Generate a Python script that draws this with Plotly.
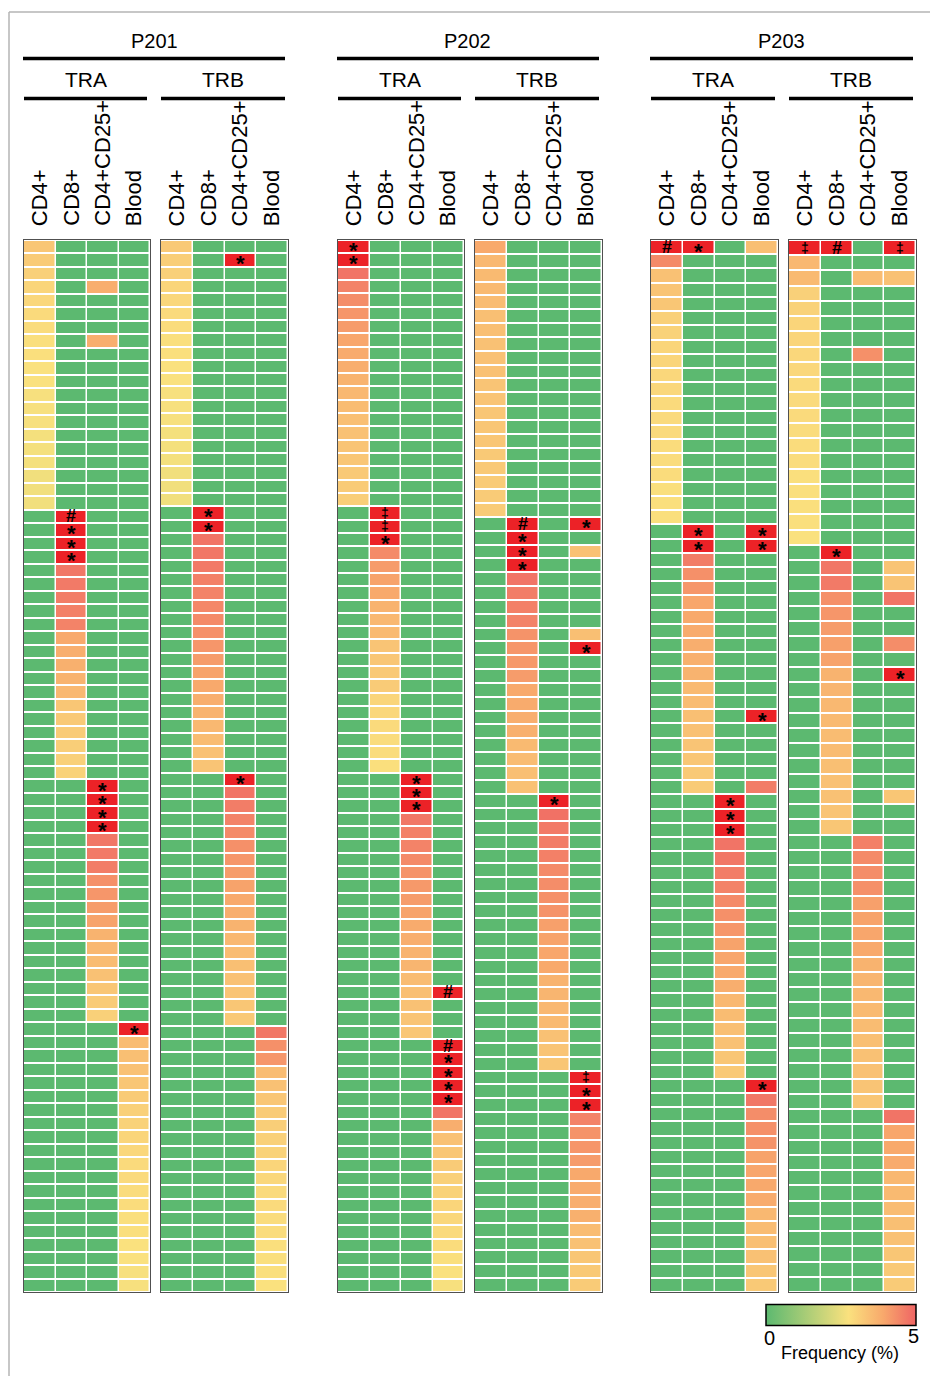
import plotly.graph_objects as go

W, H = 930, 1376

COLUMNS = ["CD4+", "CD8+", "CD4+CD25+", "Blood"]
PATIENTS = ["P201", "P202", "P203"]
CHAINS = ["TRA", "TRB"]

# ---------------- P201 TRA (78 clones) ----------------
P201_TRA_CD4 = [3.3,3.2,3.1,3.0,2.95,2.9,2.85,2.8,2.8,2.75,
                2.75,2.7,2.7,2.7,2.65,2.65,2.65,2.6,2.6,2.6,
                0,0,0,0,0,0,0,0,0,0, 0,0,0,0,0,0,0,0,0,0,
                0,0,0,0,0,0,0,0,0,0, 0,0,0,0,0,0,0,0,0,0,
                0,0,0,0,0,0,0,0,0,0, 0,0,0,0,0,0,0,0]
P201_TRA_CD8 = [0,0,0,0,0,0,0,0,0,0, 0,0,0,0,0,0,0,0,0,0,
                6,6,6,6,4.7,4.65,4.6,4.55,4.5,3.9,
                3.8,3.75,3.7,3.6,3.3,3.25,3.2,3.15,3.1,3.05,
                0,0,0,0,0,0,0,0,0,0, 0,0,0,0,0,0,0,0,0,0,
                0,0,0,0,0,0,0,0,0,0, 0,0,0,0,0,0,0,0]
P201_TRA_CD25 = [0,0,0,3.8,0,0,0,3.8,0,0, 0,0,0,0,0,0,0,0,0,0,
                 0,0,0,0,0,0,0,0,0,0, 0,0,0,0,0,0,0,0,0,0,
                 6,6,6,6,4.7,4.65,4.6,4.3,4.2,4.1,
                 4.0,3.7,3.6,3.5,3.4,3.3,3.2,3.1,0,0,
                 0,0,0,0,0,0,0,0,0,0, 0,0,0,0,0,0,0,0]
P201_TRA_BLOOD = [0,0,0,0,0,0,0,0,0,0, 0,0,0,0,0,0,0,0,0,0,
                  0,0,0,0,0,0,0,0,0,0, 0,0,0,0,0,0,0,0,0,0,
                  0,0,0,0,0,0,0,0,0,0,
                  0,0,0,0,0,0,0,0,6,3.5,
                  3.45,3.4,3.3,3.2,3.1,3.05,3.0,2.95,2.9,2.9,
                  2.85,2.85,2.8,2.8,2.75,2.75,2.7,2.7]
P201_TRA_MARKS = [(1,20,"#"),(1,21,"*"),(1,22,"*"),(1,23,"*"),
                  (2,40,"*"),(2,41,"*"),(2,42,"*"),(2,43,"*"),(3,58,"*")]

# ---------------- P201 TRB (79 clones) ----------------
P201_TRB_CD4 = [3.25,3.15,3.1,3.0,2.95,2.9,2.85,2.8,2.8,2.75,
                2.75,2.7,2.7,2.7,2.65,2.65,2.65,2.6,2.6,2.6,
                0,0,0,0,0,0,0,0,0,0, 0,0,0,0,0,0,0,0,0,0,
                0,0,0,0,0,0,0,0,0,0, 0,0,0,0,0,0,0,0,0,0,
                0,0,0,0,0,0,0,0,0,0, 0,0,0,0,0,0,0,0,0]
P201_TRB_CD8 = [0,0,0,0,0,0,0,0,0,0, 0,0,0,0,0,0,0,0,0,0,
                6,6,4.75,4.7,4.65,4.55,4.5,4.45,4.4,4.3,
                4.2,4.1,4.0,3.9,3.8,3.7,3.6,3.5,3.4,3.35,
                0,0,0,0,0,0,0,0,0,0, 0,0,0,0,0,0,0,0,0,0,
                0,0,0,0,0,0,0,0,0,0, 0,0,0,0,0,0,0,0,0]
P201_TRB_CD25 = [0,6,0,0,0,0,0,0,0,0, 0,0,0,0,0,0,0,0,0,0,
                 0,0,0,0,0,0,0,0,0,0, 0,0,0,0,0,0,0,0,0,0,
                 6,4.75,4.6,4.5,4.4,4.3,4.2,4.1,4.0,3.9,
                 3.8,3.7,3.6,3.5,3.45,3.4,3.35,3.3,3.25,0,
                 0,0,0,0,0,0,0,0,0,0, 0,0,0,0,0,0,0,0,0]
P201_TRB_BLOOD = [0,0,0,0,0,0,0,0,0,0, 0,0,0,0,0,0,0,0,0,0,
                  0,0,0,0,0,0,0,0,0,0, 0,0,0,0,0,0,0,0,0,0,
                  0,0,0,0,0,0,0,0,0,0,
                  0,0,0,0,0,0,0,0,0,4.7,
                  4.3,4.2,3.5,3.4,3.3,3.2,3.15,3.1,3.05,3.0,
                  2.95,2.9,2.9,2.85,2.85,2.8,2.8,2.8,2.75]
P201_TRB_MARKS = [(2,1,"*"),(1,20,"*"),(1,21,"*"),(2,40,"*")]

# ---------------- P202 TRA (79 clones) ----------------
P202_TRA_CD4 = [6,6,4.75,4.5,4.35,4.2,4.1,3.95,3.85,3.8,
                3.7,3.6,3.5,3.45,3.4,3.35,3.3,3.25,3.2,3.15,
                0,0,0,0,0,0,0,0,0,0, 0,0,0,0,0,0,0,0,0,0,
                0,0,0,0,0,0,0,0,0,0, 0,0,0,0,0,0,0,0,0,0,
                0,0,0,0,0,0,0,0,0,0, 0,0,0,0,0,0,0,0,0]
P202_TRA_CD8 = [0,0,0,0,0,0,0,0,0,0, 0,0,0,0,0,0,0,0,0,0,
                6,6,6,4.4,4.1,4.0,3.9,3.7,3.6,3.55,
                3.35,3.3,3.25,3.2,3.0,2.95,2.9,2.85,2.85,2.8,
                0,0,0,0,0,0,0,0,0,0, 0,0,0,0,0,0,0,0,0,0,
                0,0,0,0,0,0,0,0,0,0, 0,0,0,0,0,0,0,0,0]
P202_TRA_CD25 = [0,0,0,0,0,0,0,0,0,0, 0,0,0,0,0,0,0,0,0,0,
                 0,0,0,0,0,0,0,0,0,0, 0,0,0,0,0,0,0,0,0,0,
                 6,6,6,4.7,4.55,4.5,4.4,4.25,4.15,4.1,
                 4.0,3.85,3.8,3.7,3.65,3.5,3.45,3.4,3.35,3.3,
                 0,0,0,0,0,0,0,0,0,0, 0,0,0,0,0,0,0,0,0]
P202_TRA_BLOOD = [0,0,0,0,0,0,0,0,0,0, 0,0,0,0,0,0,0,0,0,0,
                  0,0,0,0,0,0,0,0,0,0, 0,0,0,0,0,0,0,0,0,0,
                  0,0,0,0,0,0,0,0,0,0,
                  0,0,0,0,0,0,6,0,0,0,
                  6,6,6,6,6,4.75,3.8,3.4,3.3,3.2,
                  3.1,3.05,3.0,2.95,2.9,2.85,2.8,2.75,2.7]
P202_TRA_MARKS = [(0,0,"*"),(0,1,"*"),(1,20,"‡"),(1,21,"‡"),(1,22,"*"),
                  (2,40,"*"),(2,41,"*"),(2,42,"*"),(3,56,"#"),
                  (3,60,"#"),(3,61,"*"),(3,62,"*"),(3,63,"*"),(3,64,"*")]

# ---------------- P202 TRB (76 clones) ----------------
P202_TRB_CD4 = [3.9,3.6,3.55,3.55,3.5,3.45,3.45,3.4,3.4,3.4,
                3.35,3.35,3.3,3.3,3.3,3.25,3.25,3.2,3.2,3.2,
                0,0,0,0,0,0,0,0,0,0, 0,0,0,0,0,0,0,0,0,0,
                0,0,0,0,0,0,0,0,0,0, 0,0,0,0,0,0,0,0,0,0,
                0,0,0,0,0,0,0,0,0,0, 0,0,0,0,0,0]
P202_TRB_CD8 = [0,0,0,0,0,0,0,0,0,0, 0,0,0,0,0,0,0,0,0,0,
                6,6,6,6,4.75,4.6,4.55,4.5,4.25,4.2,
                4.15,4.1,3.9,3.85,3.8,3.75,3.55,3.5,3.45,3.4,
                0,0,0,0,0,0,0,0,0,0, 0,0,0,0,0,0,0,0,0,0,
                0,0,0,0,0,0,0,0,0,0, 0,0,0,0,0,0]
P202_TRB_CD25 = [0,0,0,0,0,0,0,0,0,0, 0,0,0,0,0,0,0,0,0,0,
                 0,0,0,0,0,0,0,0,0,0, 0,0,0,0,0,0,0,0,0,0,
                 6,4.8,4.65,4.6,4.55,4.4,4.35,4.3,4.25,4.05,
                 4.0,3.95,3.9,3.7,3.65,3.6,3.55,3.4,3.35,3.3,
                 0,0,0,0,0,0,0,0,0,0, 0,0,0,0,0,0]
P202_TRB_BLOOD = [0,0,0,0,0,0,0,0,0,0, 0,0,0,0,0,0,0,0,0,0,
                  6,0,3.4,0,0,0,0,0,3.45,6,
                  0,0,0,0,0,0,0,0,0,0, 0,0,0,0,0,0,0,0,0,0,
                  0,0,0,0,0,0,0,0,0,0,
                  6,6,6,4.5,4.25,4.2,4.1,3.9,3.85,3.8,
                  3.75,3.5,3.4,3.3,3.25,3.2]
P202_TRB_MARKS = [(1,20,"#"),(1,21,"*"),(1,22,"*"),(1,23,"*"),
                  (3,20,"*"),(3,29,"*"),(2,40,"*"),
                  (3,60,"‡"),(3,61,"*"),(3,62,"*")]

# ---------------- P203 TRA (74 clones) ----------------
P203_TRA_CD4 = [6,4.4,3.4,3.35,3.3,3.1,3.05,3.0,3.0,2.95,
                2.95,2.9,2.9,2.9,2.85,2.85,2.85,2.8,2.8,2.8,
                0,0,0,0,0,0,0,0,0,0, 0,0,0,0,0,0,0,0,0,0,
                0,0,0,0,0,0,0,0,0,0, 0,0,0,0,0,0,0,0,0,0,
                0,0,0,0,0,0,0,0,0,0, 0,0,0,0]
P203_TRA_CD8 = [6,0,0,0,0,0,0,0,0,0, 0,0,0,0,0,0,0,0,0,0,
                6,6,4.6,4.3,4.2,3.95,3.9,3.85,3.8,3.75,
                3.7,3.55,3.5,3.45,3.4,3.35,3.3,3.25,3.2,0,
                0,0,0,0,0,0,0,0,0,0, 0,0,0,0,0,0,0,0,0,0,
                0,0,0,0,0,0,0,0,0,0, 0,0,0,0]
P203_TRA_CD25 = [0,0,0,0,0,0,0,0,0,0, 0,0,0,0,0,0,0,0,0,0,
                 0,0,0,0,0,0,0,0,0,0,
                 0,0,0,0,0,0,0,0,0,6,
                 6,6,4.75,4.7,4.6,4.5,4.4,4.3,4.2,4.0,
                 3.95,3.9,3.8,3.6,3.5,3.45,3.4,3.3,3.25,0,
                 0,0,0,0,0,0,0,0,0,0, 0,0,0,0]
P203_TRA_BLOOD = [3.45,0,0,0,0,0,0,0,0,0, 0,0,0,0,0,0,0,0,0,0,
                  6,6,0,0,0,0,0,0,0,0,
                  0,0,0,6,0,0,0,0,4.6,0,
                  0,0,0,0,0,0,0,0,0,0,
                  0,0,0,0,0,0,0,0,0,6,
                  4.7,4.35,4.3,4.25,4.0,3.95,3.9,3.85,3.6,3.5,
                  3.45,3.4,3.3,3.25]
P203_TRA_MARKS = [(0,0,"#"),(1,0,"*"),(1,20,"*"),(1,21,"*"),(3,20,"*"),(3,21,"*"),
                  (3,33,"*"),(2,39,"*"),(2,40,"*"),(2,41,"*"),(3,59,"*")]

# ---------------- P203 TRB (69 clones) ----------------
P203_TRB_CD4 = [6,3.6,3.55,3.1,3.05,3.0,3.0,2.95,2.95,2.9,
                2.9,2.9,2.85,2.85,2.85,2.8,2.8,2.8,2.8,2.75,
                0,0,0,0,0,0,0,0,0,0, 0,0,0,0,0,0,0,0,0,0,
                0,0,0,0,0,0,0,0,0,0, 0,0,0,0,0,0,0,0,0,0,
                0,0,0,0,0,0,0,0,0]
P203_TRB_CD8 = [6,0,0,0,0,0,0,0,0,0, 0,0,0,0,0,0,0,0,0,0,
                6,4.7,4.65,4.3,4.2,4.1,4.05,4.0,3.7,3.65,
                3.6,3.55,3.5,3.5,3.45,3.4,3.4,3.35,3.3,0,
                0,0,0,0,0,0,0,0,0,0, 0,0,0,0,0,0,0,0,0,0,
                0,0,0,0,0,0,0,0,0]
P203_TRB_CD25 = [0,0,3.5,0,0,0,0,4.3,0,0, 0,0,0,0,0,0,0,0,0,0,
                 0,0,0,0,0,0,0,0,0,0,
                 0,0,0,0,0,0,0,0,0,4.55,
                 4.4,4.35,4.3,4.05,4.0,3.95,3.9,3.7,3.65,3.6,
                 3.55,3.5,3.45,3.4,3.4,3.35,3.3,0,0,0,
                 0,0,0,0,0,0,0,0,0]
P203_TRB_BLOOD = [6,0,3.4,0,0,0,0,0,0,0, 0,0,0,0,0,0,0,0,0,0,
                  0,3.35,3.35,4.75,0,0,4.35,0,6,0,
                  0,0,0,0,0,0,3.3,0,0,0,
                  0,0,0,0,0,0,0,0,0,0,
                  0,0,0,0,0,0,0,4.75,3.95,3.9,
                  3.85,3.6,3.55,3.5,3.45,3.4,3.3,3.25,3.2]
P203_TRB_MARKS = [(0,0,"‡"),(1,0,"#"),(3,0,"‡"),(1,20,"*"),(3,28,"*")]

PANELS = [
    ("P201", "TRA", [P201_TRA_CD4, P201_TRA_CD8, P201_TRA_CD25, P201_TRA_BLOOD], P201_TRA_MARKS),
    ("P201", "TRB", [P201_TRB_CD4, P201_TRB_CD8, P201_TRB_CD25, P201_TRB_BLOOD], P201_TRB_MARKS),
    ("P202", "TRA", [P202_TRA_CD4, P202_TRA_CD8, P202_TRA_CD25, P202_TRA_BLOOD], P202_TRA_MARKS),
    ("P202", "TRB", [P202_TRB_CD4, P202_TRB_CD8, P202_TRB_CD25, P202_TRB_BLOOD], P202_TRB_MARKS),
    ("P203", "TRA", [P203_TRA_CD4, P203_TRA_CD8, P203_TRA_CD25, P203_TRA_BLOOD], P203_TRA_MARKS),
    ("P203", "TRB", [P203_TRB_CD4, P203_TRB_CD8, P203_TRB_CD25, P203_TRB_BLOOD], P203_TRB_MARKS),
]

# ---------------- styling / layout constants ----------------
FONT = "Liberation Sans, Arial, Helvetica, sans-serif"
PANEL_X = [(24, 150), (161, 288), (338, 464), (475, 602), (651, 778), (789, 916)]
PANEL_TOP, PANEL_BOTTOM = 240, 1292
GREEN, YELLOW, ORANGE, SALMON, RED = "#5cb970", "#fae17e", "#f8a96c", "#ef6464", "#ec2227"
ZMAX = 6.0
CELL_SCALE = [[0, GREEN], [2.75 / ZMAX, YELLOW], [3.9 / ZMAX, ORANGE],
              [5.0 / ZMAX, SALMON], [5.4 / ZMAX, RED], [1, RED]]
BAR_SCALE = [[0, GREEN], [0.55, YELLOW], [0.78, ORANGE], [1, SALMON]]
MARK_FONT = {"*": (22, -4), "#": (18, 0), "‡": (14, 0)}


def px(xp):
    return xp / W


def py(yp):
    return 1 - yp / H


fig = go.Figure()
layout = dict(width=W, height=H, margin=dict(l=0, r=0, t=0, b=0),
              paper_bgcolor="white", plot_bgcolor="white",
              font=dict(family=FONT, color="black"), showlegend=False)
annotations = []
shapes = []

for i, (pat, chain, cols, marks) in enumerate(PANELS):
    n = len(cols[0])
    for c in cols:
        assert len(c) == n, (pat, chain, len(c), n)
    z = [[cols[c][r] for c in range(4)] for r in range(n)]
    sfx = "" if i == 0 else str(i + 1)
    fig.add_trace(go.Heatmap(
        z=z, x=list(range(4)), y=list(range(n)),
        xaxis="x" + sfx, yaxis="y" + sfx,
        colorscale=CELL_SCALE, zmin=0, zmax=ZMAX, showscale=False,
        xgap=1.5, ygap=2, hoverinfo="skip"))
    x0, x1 = PANEL_X[i]
    layout["xaxis" + sfx] = dict(domain=[px(x0), px(x1)], range=[-0.5, 3.5],
                                 showticklabels=False, showgrid=False, zeroline=False,
                                 ticks="", showline=True, mirror=True,
                                 linecolor="#505050", linewidth=1.3,
                                 anchor="y" + sfx, fixedrange=True)
    layout["yaxis" + sfx] = dict(domain=[py(PANEL_BOTTOM), py(PANEL_TOP)],
                                 range=[n - 0.5, -0.5],
                                 showticklabels=False, showgrid=False, zeroline=False,
                                 ticks="", showline=True, mirror=True,
                                 linecolor="#505050", linewidth=1.3,
                                 anchor="x" + sfx, fixedrange=True)
    # column labels
    for ci, name in enumerate(COLUMNS):
        annotations.append(dict(text=name, x=ci, xref="x" + sfx, y=py(228), yref="paper",
                                textangle=-90, xanchor="center", yanchor="bottom",
                                showarrow=False, font=dict(size=22, family=FONT)))
    # significance markers
    for (ci, r, sym) in marks:
        fsize, shift = MARK_FONT[sym]
        annotations.append(dict(text="<b>" + sym + "</b>", x=ci, xref="x" + sfx,
                                y=r, yref="y" + sfx, borderpad=0,
                                showarrow=False, xanchor="center", yanchor="middle",
                                yshift=shift,
                                font=dict(size=fsize, family=FONT, color="black")))
    # chain header + line
    annotations.append(dict(text=chain, x=px((x0 + x1 - 3) / 2), xref="paper",
                            y=py(79), yref="paper", showarrow=False,
                            xanchor="center", yanchor="middle",
                            font=dict(size=21, family=FONT)))
    shapes.append(dict(type="line", xref="paper", yref="paper",
                       x0=px(x0), x1=px(x1 - 3), y0=py(98.5), y1=py(98.5),
                       line=dict(color="black", width=3.5)))

# patient headers
for pi, pat in enumerate(PATIENTS):
    xl = PANEL_X[2 * pi][0] - 1
    xr = PANEL_X[2 * pi + 1][1] - 3
    annotations.append(dict(text=pat, x=px((xl + xr) / 2), xref="paper",
                            y=py(41), yref="paper", showarrow=False,
                            xanchor="center", yanchor="middle",
                            font=dict(size=20, family=FONT)))
    shapes.append(dict(type="line", xref="paper", yref="paper",
                       x0=px(xl), x1=px(xr), y0=py(58.5), y1=py(58.5),
                       line=dict(color="black", width=3.5)))

# outer light frame
shapes.append(dict(type="line", xref="paper", yref="paper", x0=px(9), x1=1,
                   y0=py(12), y1=py(12), line=dict(color="#b4b4b4", width=1.5)))
shapes.append(dict(type="line", xref="paper", yref="paper", x0=px(9), x1=px(9),
                   y0=0, y1=py(12), line=dict(color="#b4b4b4", width=1.5)))

# colour bar (0-5 %) on a hidden helper axis
fig.add_trace(go.Scatter(
    x=[0, 1], y=[0, 1], mode="markers", xaxis="x7", yaxis="y7", hoverinfo="skip",
    marker=dict(size=1, opacity=0, color=[0, 5], cmin=0, cmax=5,
                colorscale=BAR_SCALE, showscale=True,
                colorbar=dict(orientation="h", x=px(766), xanchor="left",
                              y=py(1327), yanchor="bottom", len=150 / W, lenmode="fraction",
                              thickness=21, thicknessmode="pixels",
                              outlinewidth=1.5, outlinecolor="black",
                              showticklabels=False, ticks="", xpad=0, ypad=0))))
layout["xaxis7"] = dict(domain=[0, 0.001], visible=False, anchor="y7")
layout["yaxis7"] = dict(domain=[0, 0.001], visible=False, anchor="x7")

annotations.append(dict(text="0", x=px(769), y=py(1338), xref="paper", yref="paper",
                        showarrow=False, xanchor="center", yanchor="middle",
                        font=dict(size=20, family=FONT)))
annotations.append(dict(text="5", x=px(913), y=py(1336), xref="paper", yref="paper",
                        showarrow=False, xanchor="center", yanchor="middle",
                        font=dict(size=20, family=FONT)))
annotations.append(dict(text="Frequency (%)", x=px(840), y=py(1353), xref="paper", yref="paper",
                        showarrow=False, xanchor="center", yanchor="middle",
                        font=dict(size=18, family=FONT)))

layout["annotations"] = annotations
layout["shapes"] = shapes
fig.update_layout(**layout)
fig.write_html("out.html", config={"displayModeBar": False},
               post_script="document.body.style.margin='0';document.body.style.padding='0';")
